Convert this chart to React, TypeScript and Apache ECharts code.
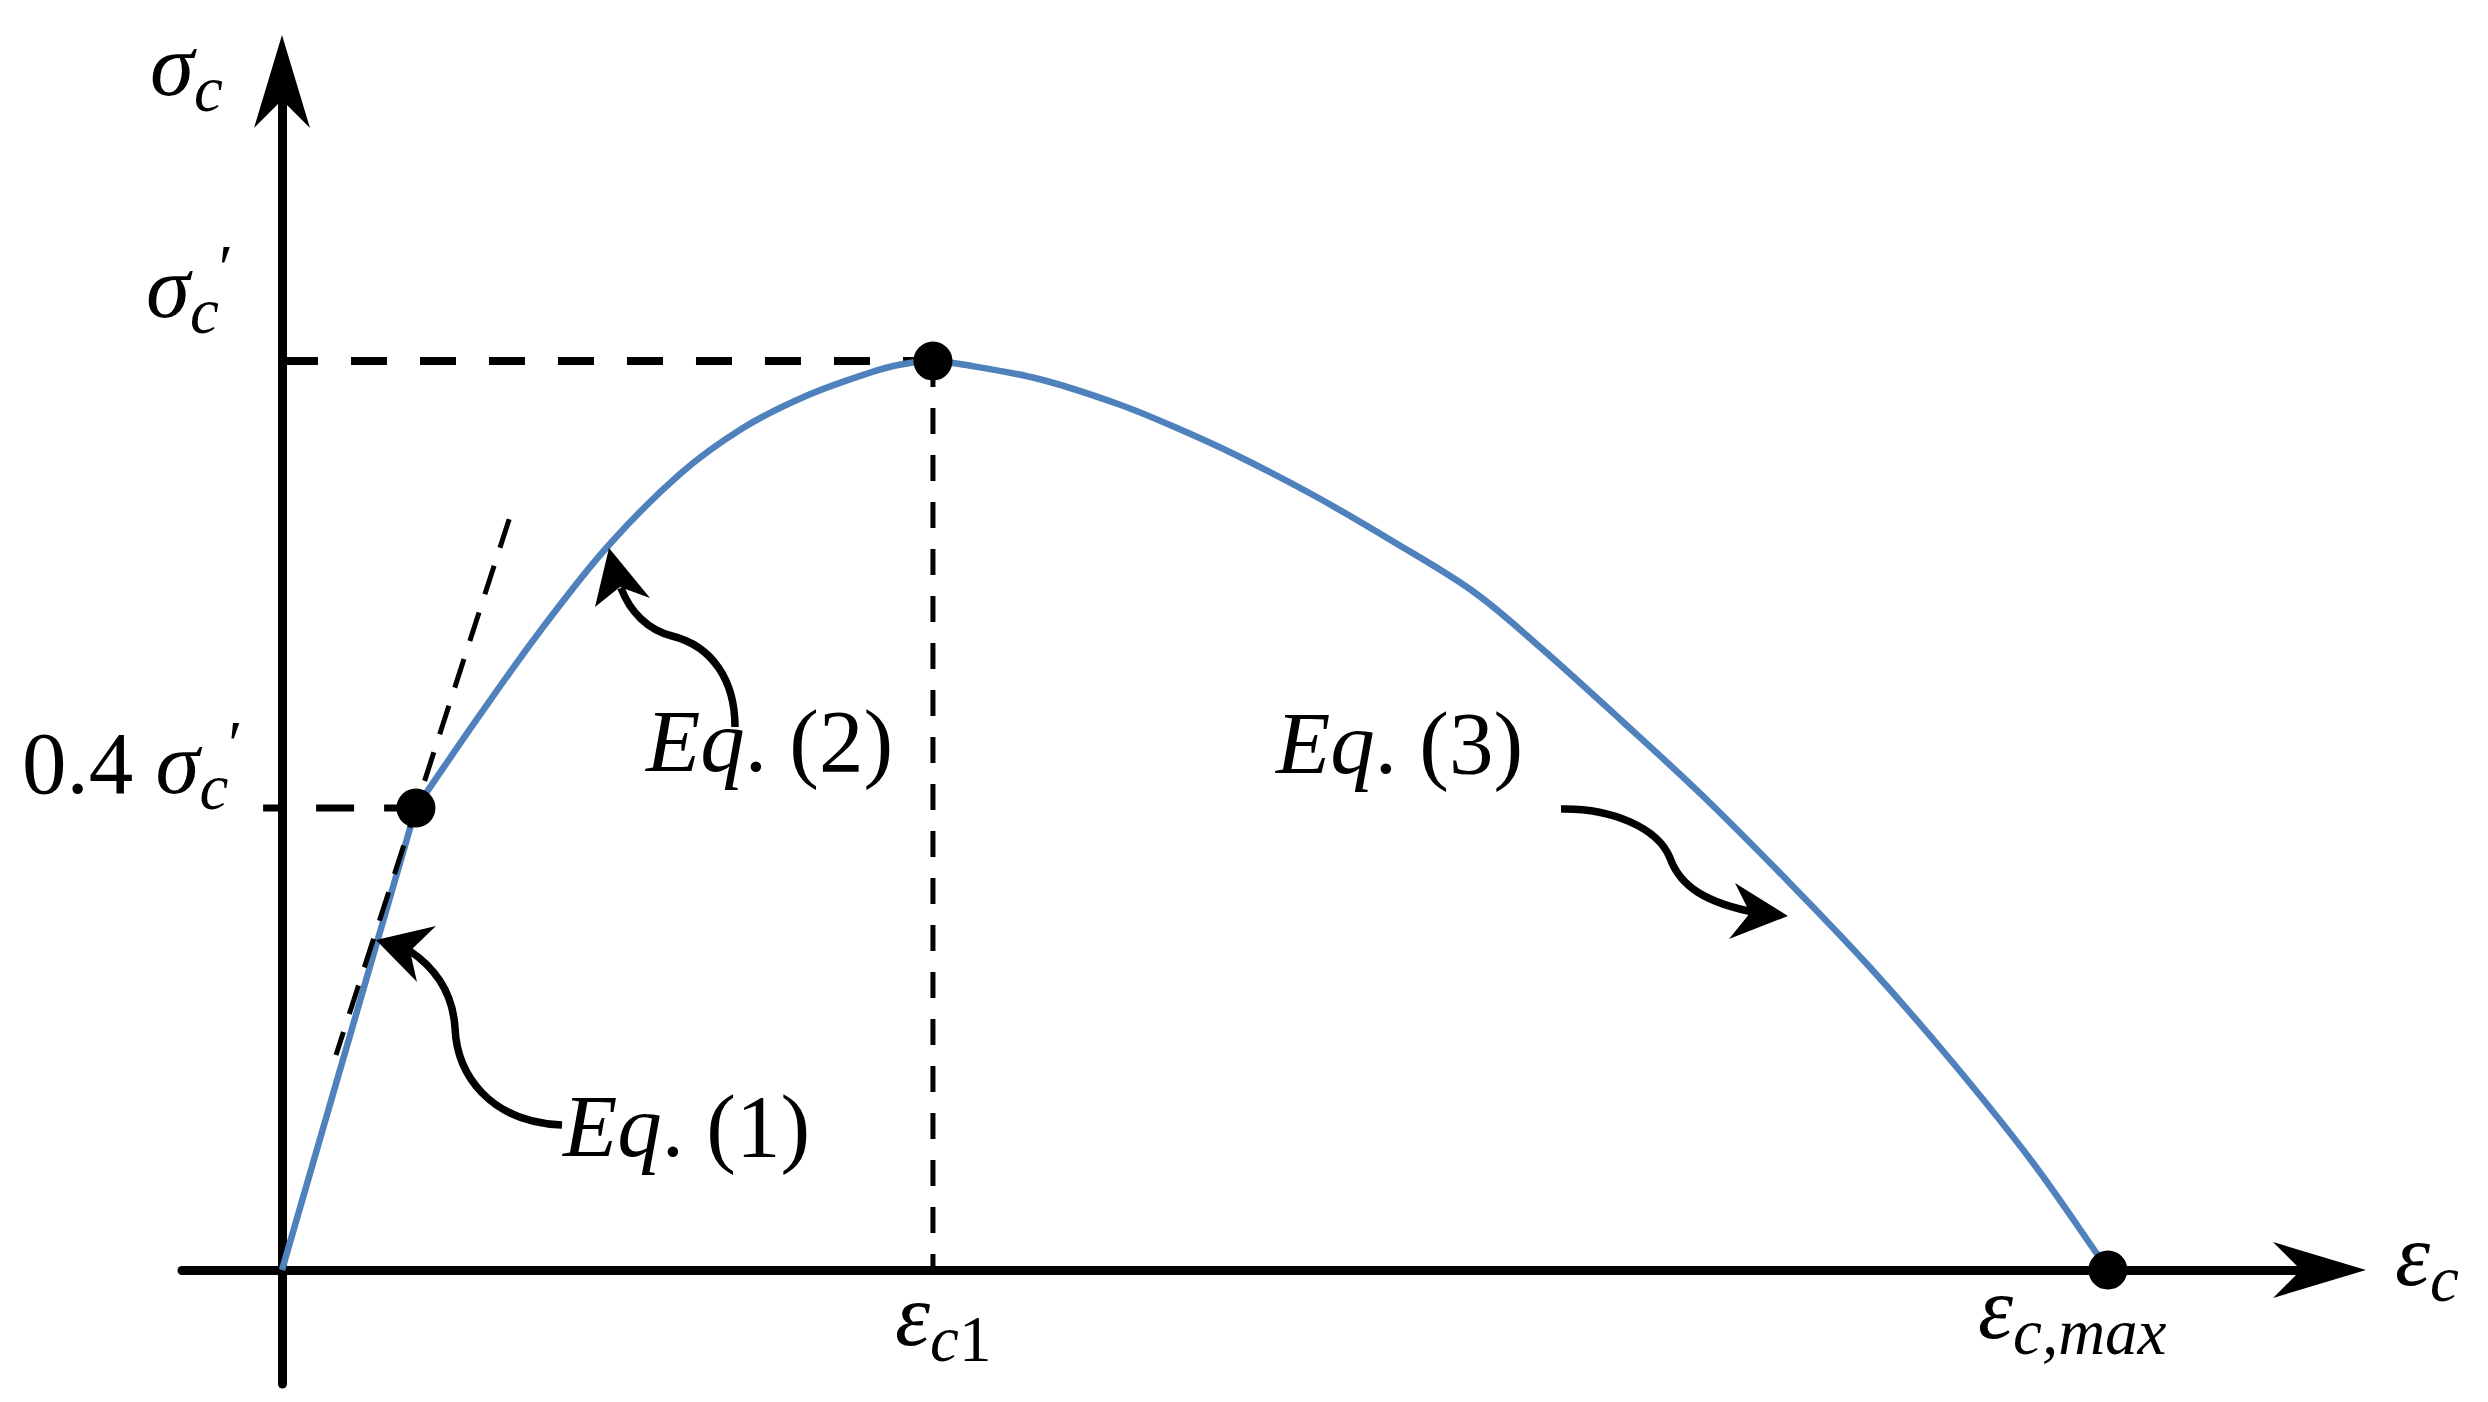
import React, { useEffect, useRef } from "react";
import * as echarts from "echarts";

// ---- data (strain in units of εc1, stress in units of σ'c) ----
const elasticStrain = [0, 0.2058];
const elasticStress = [0, 0.5083];

const curveStrain = [
  0.2058, 0.3072, 0.3978, 0.5008, 0.6114, 0.7081, 0.8049, 0.9017, 0.9508, 1.0,
  1.0415, 1.1628, 1.2842, 1.3748, 1.4654, 1.5868, 1.7081, 1.831, 1.9324, 2.0584, 2.1843,
  2.3103, 2.4347, 2.5607, 2.6866, 2.7926, 2.8049,
];
const curveStress = [
  0.5083, 0.6139, 0.7041, 0.7965, 0.8757, 0.9263, 0.9615, 0.9868, 0.9961, 1.0,
  0.9967, 0.9802, 0.9527, 0.9263, 0.8966, 0.8515, 0.8009, 0.7459, 0.6854, 0.604, 0.5204,
  0.4301, 0.3366, 0.2332, 0.121, 0.0132, 0,
];

const keyStrain = [0.2058, 1.0, 2.8049];
const keyStress = [0.5083, 1.0, 0];

const peakLevelStrain = [0, 1.0];
const peakLevelStress = [1.0, 1.0];
const peakDropStrain = [1.0, 1.0];
const peakDropStress = [1.0, 0];
const limitLevelStrain = [-0.029, 0.2058];
const limitLevelStress = [0.5083, 0.5083];
const tangentStrain = [0.349, 0.083];
const tangentStress = [0.826, 0.2365];

const X_MIN = -0.1536;
const X_MAX = 3.13;
const Y_MIN = -0.1254;
const Y_MAX = 1.3075;

// label texts (rich-text encoded: m = italic symbol, n = upright, s = italic subscript, t = upright subscript, p = prime)
const yAxisName = "{m|σ}{s|c}";
const xAxisName = "{m|ε}{s|c}";
const yTickLabels = ["{n|0.4 }{m|σ}{s|c}{p|′}", "{m|σ}{s|c}{p|′}"];
const xTickLabels = ["{m|ε}{s|c}{t|1}", "{m|ε}{s|c,max}"];
const eqLabels = ["(1)", "(2)", "(3)"];

const BLUE = "#4F81BD";
const FONT = '"Liberation Serif", "Times New Roman", serif';
const BIG = 89;
const SUB = 65;

const zip = (xs: number[], ys: number[]) => xs.map((x, i) => [x, ys[i]]);

const ARROW = "path://M28 0 L56 93 L28 65 L0 93 Z";

echarts.graphic.registerShape(
  "eq1Body",
  echarts.graphic.extendPath("M410,951 C438,970 453,995 455,1028 C457,1075 490,1122 562,1125", {})
);
echarts.graphic.registerShape(
  "eq2Body",
  echarts.graphic.extendPath("M621,588 C630,612 648,630 672,636 C712,646 735,680 735,727", {})
);
echarts.graphic.registerShape(
  "eq3Body",
  echarts.graphic.extendPath("M1561,809 C1612,808 1658,828 1670,858 C1680,886 1705,903 1758,913", {})
);

const RICH = {
  m: { fontStyle: "italic", fontSize: BIG, fontFamily: FONT, fill: "#000" },
  n: { fontStyle: "normal", fontSize: BIG, fontFamily: FONT, fill: "#000" },
  s: { fontStyle: "italic", fontSize: SUB, fontFamily: FONT, fill: "#000", padding: [48, 0, 0, 0] },
  t: { fontStyle: "normal", fontSize: SUB, fontFamily: FONT, fill: "#000", padding: [48, 0, 0, 0] },
  p: { fontStyle: "normal", fontSize: SUB, fontFamily: FONT, fill: "#000", padding: [0, 0, 38, 0] },
  a: { fontStyle: "italic", fontSize: BIG, fontFamily: FONT, fill: "#000" },
  b: { fontStyle: "normal", fontSize: BIG, fontFamily: FONT, fill: "#000" },
};

// x = left edge, baseline = alphabetic baseline of the large glyphs
function label(text: string, x: number, baseline: number) {
  return {
    type: "text",
    silent: true,
    z: 10,
    style: {
      text,
      x,
      y: baseline - 0.3375 * BIG,
      fill: "#000",
      align: "left",
      verticalAlign: "middle",
      textAlign: "left",
      textVerticalAlign: "middle",
      rich: RICH,
    },
  };
}

function App() {
  const ref = useRef<HTMLDivElement>(null);
  useEffect(() => {
    if (!ref.current) return;
    const chart = echarts.init(ref.current, null, { renderer: "svg" });

    const axisCommon = {
      type: "value",
      axisTick: { show: false },
      axisLabel: { show: false },
      splitLine: { show: false },
    };
    const axisLine = {
      show: true,
      onZero: true,
      symbol: ["none", ARROW],
      symbolSize: [56, 93],
      lineStyle: { color: "#000", width: 9 },
    };

    const graphic: any[] = [
      label(yAxisName, 150, 95),
      label(xAxisName, 2395, 1285),
      label(yTickLabels[1], 146, 317),
      label(yTickLabels[0], 22, 793),
      label(xTickLabels[0], 895, 1345),
      label(xTickLabels[1], 1978, 1338),
      label(`{a|Eq}{b|. ${eqLabels[0]}}`, 563, 1156),
      label(`{a|Eq}{b|. ${eqLabels[1]}}`, 646, 771),
      label(`{a|Eq}{b|. ${eqLabels[2]}}`, 1276, 773),
      // curly annotation arrows
      { type: "eq1Body", silent: true, z: 9, style: { stroke: "#000", lineWidth: 7.5, fill: "none" } },
      { type: "polygon", silent: true, z: 9, shape: { points: [[376, 940], [436, 926], [410, 951], [417, 982]] }, style: { fill: "#000" } },
      { type: "eq2Body", silent: true, z: 9, style: { stroke: "#000", lineWidth: 7.5, fill: "none" } },
      { type: "polygon", silent: true, z: 9, shape: { points: [[609, 548], [650, 598], [620, 587], [595, 607]] }, style: { fill: "#000" } },
      { type: "eq3Body", silent: true, z: 9, style: { stroke: "#000", lineWidth: 7.5, fill: "none" } },
      { type: "polygon", silent: true, z: 9, shape: { points: [[1788, 916], [1735, 883], [1750, 913], [1729, 939]] }, style: { fill: "#000" } },
    ];

    const option: any = {
      animation: false,
      backgroundColor: "#ffffff",
      grid: { left: 182, right: 168.5, top: 81.5, bottom: 18, containLabel: false, outerBoundsMode: "none" },
      xAxis: { ...axisCommon, min: X_MIN, max: X_MAX, axisLine },
      yAxis: { ...axisCommon, min: Y_MIN, max: Y_MAX, axisLine },
      series: [
        {
          type: "line",
          data: zip(peakLevelStrain, peakLevelStress),
          symbol: "none",
          silent: true,
          z: 1,
          lineStyle: { color: "#000", width: 8, type: [36, 33] },
        },
        {
          type: "line",
          data: zip(peakDropStrain, peakDropStress),
          symbol: "none",
          silent: true,
          z: 1,
          lineStyle: { color: "#000", width: 5, type: [26, 21] },
        },
        {
          type: "line",
          data: zip(limitLevelStrain, limitLevelStress),
          symbol: "none",
          silent: true,
          z: 1,
          lineStyle: { color: "#000", width: 7, type: [38, 30], dashOffset: 15 },
        },
        {
          type: "line",
          data: zip(elasticStrain, elasticStress),
          symbol: "none",
          silent: true,
          z: 2,
          lineStyle: { color: BLUE, width: 6.5 },
        },
        {
          type: "line",
          data: zip(curveStrain, curveStress),
          symbol: "none",
          smooth: 0.35,
          silent: true,
          z: 2,
          lineStyle: { color: BLUE, width: 6.5 },
        },
        {
          type: "line",
          data: zip(tangentStrain, tangentStress),
          symbol: "none",
          silent: true,
          z: 3,
          lineStyle: { color: "#000", width: 5, type: [30, 19] },
        },
        {
          type: "scatter",
          data: zip(keyStrain, keyStress),
          symbol: "circle",
          symbolSize: 39,
          silent: true,
          z: 5,
          clip: false,
          itemStyle: { color: "#000", opacity: 1 },
        },
      ],
      graphic,
    };

    chart.setOption(option);
    return () => chart.dispose();
  }, []);

  return (
    <div
      ref={ref}
      style={{ position: "absolute", left: 0, top: 0, width: 2488, height: 1402, background: "#fff" }}
    />
  );
}

export default App;
